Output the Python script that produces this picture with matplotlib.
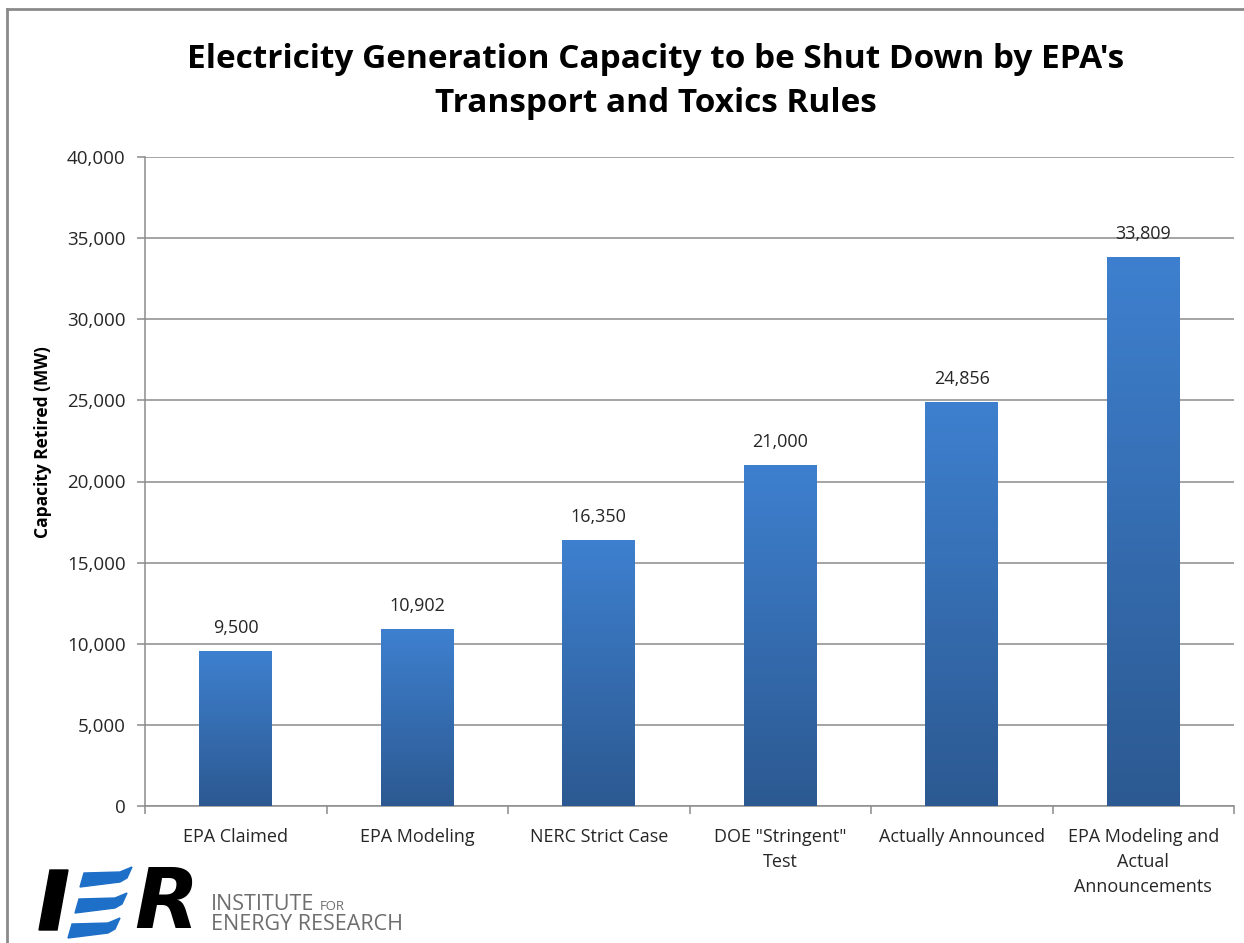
import numpy as np
import matplotlib
matplotlib.use('Agg')
import matplotlib.pyplot as plt
from matplotlib.patches import Polygon
from matplotlib.colors import LinearSegmentedColormap

categories = ['EPA Claimed', 'EPA Modeling', 'NERC Strict Case',
              'DOE "Stringent"\nTest', 'Actually Announced',
              'EPA Modeling and\nActual\nAnnouncements']
values = [9500, 10902, 16350, 21000, 24856, 33809]
yticks = [0, 5000, 10000, 15000, 20000, 25000, 30000, 35000, 40000]

plt.rcParams['font.family'] = ['Open Sans', 'DejaVu Sans']
txt = '#262626'
grid = '#8c8c8c'

fig = plt.figure(figsize=(12.44, 9.43), dpi=100)
ax = fig.add_axes([145 / 1244, 1 - 806 / 943, 1089 / 1244, 649 / 943])

cmap = LinearSegmentedColormap.from_list('bar', ['#2c5991', '#3e80cf'])
grad = np.linspace(0, 1, 256).reshape(-1, 1)
w = 0.4
x = np.arange(len(values))
for xi, v in zip(x, values):
    ax.imshow(grad, extent=[xi - w / 2, xi + w / 2, 0, v], origin='lower',
              cmap=cmap, aspect='auto', zorder=3)
    ax.text(xi, v + 1450, f'{v:,}', ha='center', va='center', fontsize=13,
            color=txt)

ax.set_xlim(-0.5, len(values) - 0.5)
ax.set_ylim(0, 40000)
ax.set_yticks(yticks)
ax.set_yticklabels([f'{t:,}' for t in yticks], fontsize=13.5, color=txt)
ax.yaxis.grid(True, color=grid, linewidth=1.1, zorder=0)
ax.set_axisbelow(True)
ax.set_xticks(x)
ax.set_xticklabels(categories, fontsize=13, color=txt, linespacing=1.5)
ax.set_xticks(np.arange(len(values) + 1) - 0.5, minor=True)
ax.tick_params(axis='x', which='major', length=0, pad=16)
ax.tick_params(axis='x', which='minor', length=6, color=grid, width=1.1)
ax.tick_params(axis='y', length=6, color=grid, width=1.1, pad=8)
for s in ['top', 'right']:
    ax.spines[s].set_visible(False)
for s in ['left', 'bottom']:
    ax.spines[s].set_color(grid)
    ax.spines[s].set_linewidth(1.1)

ax.set_ylabel('Capacity Retired (MW)', fontsize=12.5, fontweight='bold',
              color='black')
ax.yaxis.set_label_coords(-0.085, 0.56)

fig.text(656 / 1244, 1 - 60 / 943, "Electricity Generation Capacity to be Shut Down by EPA's",
         ha='center', va='center', fontsize=24, fontweight='bold', color='black')
fig.text(656 / 1244, 1 - 104 / 943, 'Transport and Toxics Rules',
         ha='center', va='center', fontsize=24, fontweight='bold', color='black')

# outer frame (top and left edges visible)
fig.add_artist(plt.Line2D([7 / 1244, 1], [1 - 9 / 943, 1 - 9 / 943],
                          transform=fig.transFigure, color='#8a8a8a', lw=2))
fig.add_artist(plt.Line2D([7 / 1244, 7 / 1244], [0, 1 - 9 / 943],
                          transform=fig.transFigure, color='#8a8a8a', lw=2))


# IER logo
def fx(px):
    return px / 1244


def fy(py):
    return 1 - py / 943


fig.add_artist(Polygon([(fx(39), fy(930)), (fx(57), fy(930)), (fx(68), fy(870)),
                        (fx(50), fy(870))], closed=True,
                       transform=fig.transFigure, color='black'))
fig.text(fx(134), fy(904), 'R', fontsize=60, fontweight='black', style='italic',
         color='black', ha='left', va='center', family='DejaVu Sans')
# E drawn as three blue swooshes
for x0, top in [(80, 868), (75, 894), (68, 919)]:
    shape = [(0, 19), (4, 5), (40, 4), (52, -1), (47, 10), (40, 14)]
    pts = [(fx(x0 + px), fy(top + py)) for px, py in shape]
    fig.add_artist(Polygon(pts, closed=True, transform=fig.transFigure,
                           color='#1e6fc8'))
fig.text(fx(211), fy(904), 'INSTITUTE', fontsize=15.5, color='#6e6e6e',
         ha='left', va='center')
fig.text(fx(320), fy(906), 'FOR', fontsize=9.5, color='#6e6e6e',
         ha='left', va='center')
fig.text(fx(211), fy(925), 'ENERGY RESEARCH', fontsize=15.5, color='#6e6e6e',
         ha='left', va='center')

fig.savefig('out.png', dpi=100)
